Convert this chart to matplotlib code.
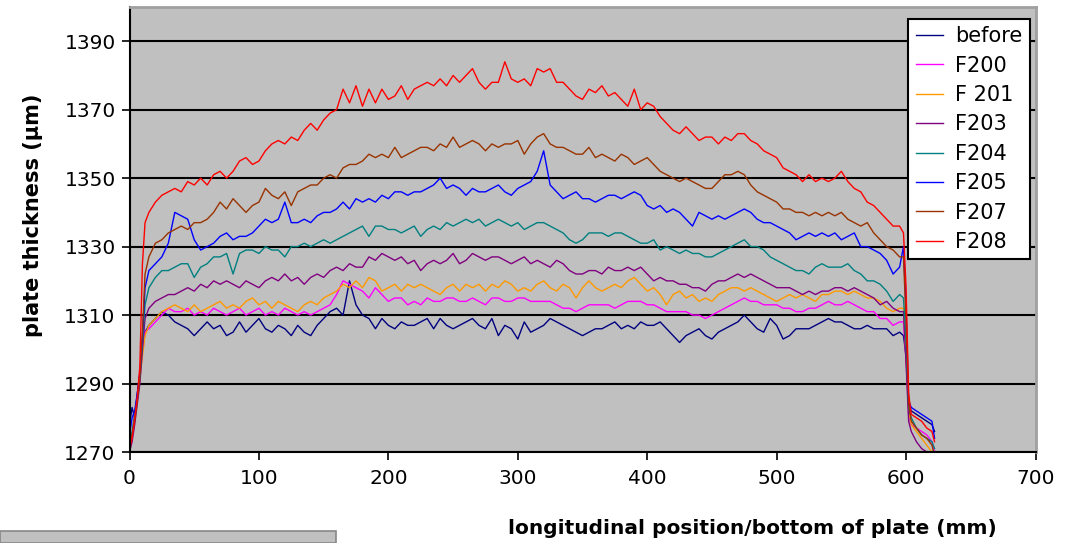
import matplotlib
matplotlib.use("Agg")
import matplotlib.pyplot as plt
from matplotlib.patches import Rectangle

# positions along the plate (mm): steep edge at the start, 5 mm body, drop-off at the end
head_mm = [0, 2, 4, 6, 8, 10, 12]
body_mm = list(range(15, 600, 5))
tail_mm = [598, 600, 602, 604, 608, 612, 616, 620, 622]
x_mm = head_mm + body_mm + tail_mm

labels = ["before", "F200", "F 201", "F203", "F204", "F205", "F207", "F208"]
colors = ["#000080", "#FF00FF", "#FF9900", "#800080", "#008080", "#0000FF", "#993300", "#FF0000"]

before = ([1278, 1283, 1280, 1287, 1293, 1300, 1305] +
          [1307, 1309, 1311, 1310, 1308, 1307, 1306, 1304, 1306, 1308,
           1306, 1307, 1304, 1305, 1308, 1305, 1307, 1309, 1306, 1305,
           1307, 1306, 1304, 1307, 1305, 1304, 1307, 1309, 1311, 1312,
           1310, 1320, 1313, 1310, 1309, 1306, 1309, 1307, 1306, 1308,
           1307, 1307, 1308, 1309, 1306, 1309, 1307, 1306, 1307, 1308,
           1309, 1307, 1306, 1309, 1304, 1307, 1306, 1303, 1308, 1305,
           1306, 1307, 1309, 1308, 1307, 1306, 1305, 1304, 1305, 1306,
           1306, 1307, 1308, 1306, 1307, 1306, 1308, 1307, 1307, 1308,
           1306, 1304, 1302, 1304, 1305, 1306, 1304, 1303, 1305, 1306,
           1307, 1308, 1310, 1308, 1306, 1305, 1309, 1307, 1303, 1304,
           1306, 1306, 1306, 1307, 1308, 1309, 1308, 1308, 1307, 1306,
           1306, 1307, 1306, 1306, 1306, 1304, 1305] +
          [1304, 1298, 1284, 1282, 1281, 1280, 1279, 1278, 1276])

f200 = ([1271, 1275, 1281, 1286, 1292, 1299, 1305] +
        [1306, 1308, 1310, 1312, 1311, 1311, 1312, 1310, 1311, 1310,
         1312, 1311, 1310, 1311, 1312, 1310, 1311, 1312, 1310, 1311,
         1310, 1312, 1311, 1310, 1311, 1310, 1311, 1312, 1313, 1316,
         1320, 1319, 1318, 1317, 1315, 1318, 1316, 1314, 1315, 1315,
         1313, 1314, 1313, 1315, 1314, 1314, 1315, 1315, 1314, 1314,
         1315, 1314, 1313, 1315, 1315, 1314, 1314, 1315, 1315, 1314,
         1314, 1314, 1314, 1313, 1312, 1312, 1311, 1312, 1313, 1313,
         1313, 1313, 1312, 1313, 1314, 1314, 1314, 1313, 1313, 1312,
         1311, 1311, 1311, 1311, 1310, 1310, 1309, 1310, 1311, 1312,
         1313, 1314, 1315, 1314, 1314, 1313, 1313, 1313, 1312, 1312,
         1311, 1311, 1312, 1312, 1313, 1314, 1313, 1313, 1314, 1313,
         1312, 1311, 1311, 1309, 1309, 1307, 1308] +
        [1308, 1297, 1281, 1278, 1277, 1276, 1275, 1273, 1270])

f201 = ([1270, 1274, 1280, 1285, 1291, 1298, 1304] +
        [1307, 1309, 1311, 1312, 1313, 1312, 1311, 1313, 1311, 1312,
         1313, 1314, 1312, 1313, 1312, 1314, 1315, 1313, 1314, 1312,
         1314, 1313, 1312, 1311, 1313, 1314, 1313, 1315, 1316, 1317,
         1319, 1318, 1320, 1318, 1321, 1320, 1317, 1318, 1319, 1317,
         1319, 1318, 1319, 1318, 1317, 1316, 1318, 1319, 1317, 1319,
         1318, 1319, 1317, 1319, 1318, 1320, 1319, 1317, 1318, 1317,
         1319, 1320, 1318, 1317, 1319, 1318, 1315, 1318, 1320, 1318,
         1317, 1318, 1319, 1318, 1320, 1321, 1319, 1317, 1318, 1316,
         1313, 1316, 1317, 1315, 1316, 1314, 1315, 1314, 1316, 1317,
         1318, 1318, 1317, 1318, 1317, 1316, 1315, 1314, 1315, 1316,
         1315, 1316, 1315, 1314, 1316, 1316, 1317, 1317, 1316, 1317,
         1316, 1315, 1315, 1314, 1312, 1311, 1312] +
        [1312, 1298, 1282, 1278, 1276, 1274, 1272, 1270, 1266])

f203 = ([1270, 1273, 1278, 1284, 1290, 1300, 1309] +
        [1312, 1314, 1315, 1316, 1316, 1317, 1318, 1317, 1319, 1318,
         1320, 1319, 1320, 1319, 1318, 1320, 1319, 1318, 1320, 1321,
         1320, 1322, 1320, 1321, 1319, 1321, 1322, 1321, 1323, 1324,
         1323, 1325, 1324, 1324, 1327, 1326, 1328, 1327, 1326, 1327,
         1325, 1326, 1323, 1325, 1326, 1325, 1326, 1328, 1325, 1326,
         1328, 1327, 1326, 1327, 1327, 1326, 1325, 1326, 1327, 1325,
         1326, 1325, 1324, 1326, 1325, 1323, 1322, 1322, 1323, 1323,
         1322, 1324, 1323, 1323, 1324, 1323, 1324, 1322, 1320, 1321,
         1320, 1320, 1319, 1319, 1318, 1318, 1317, 1319, 1320, 1320,
         1321, 1322, 1321, 1322, 1321, 1320, 1319, 1318, 1318, 1318,
         1317, 1316, 1317, 1316, 1317, 1317, 1318, 1318, 1317, 1318,
         1317, 1316, 1315, 1313, 1314, 1312, 1311] +
        [1311, 1296, 1279, 1276, 1273, 1271, 1270, 1268, 1266])

f204 = ([1273, 1276, 1281, 1286, 1292, 1302, 1313] +
        [1318, 1321, 1323, 1323, 1324, 1325, 1325, 1321, 1324, 1325,
         1327, 1327, 1328, 1322, 1328, 1329, 1329, 1328, 1330, 1329,
         1329, 1327, 1330, 1330, 1331, 1330, 1331, 1332, 1331, 1332,
         1333, 1334, 1335, 1336, 1333, 1336, 1336, 1335, 1335, 1334,
         1335, 1336, 1333, 1335, 1336, 1335, 1337, 1336, 1337, 1338,
         1337, 1338, 1336, 1337, 1338, 1337, 1336, 1337, 1335, 1336,
         1337, 1337, 1336, 1335, 1334, 1332, 1331, 1332, 1334, 1334,
         1334, 1333, 1334, 1334, 1333, 1332, 1331, 1331, 1332, 1329,
         1330, 1329, 1328, 1329, 1328, 1328, 1327, 1327, 1328, 1329,
         1330, 1331, 1332, 1330, 1330, 1329, 1327, 1326, 1325, 1324,
         1323, 1323, 1322, 1324, 1325, 1324, 1324, 1324, 1325, 1323,
         1322, 1320, 1320, 1319, 1317, 1314, 1316] +
        [1315, 1302, 1283, 1280, 1277, 1275, 1274, 1273, 1271])

f205 = ([1275, 1280, 1282, 1287, 1293, 1304, 1318] +
        [1323, 1325, 1327, 1331, 1340, 1339, 1338, 1332, 1329, 1330,
         1331, 1333, 1334, 1332, 1333, 1333, 1334, 1336, 1338, 1337,
         1338, 1343, 1337, 1337, 1338, 1337, 1339, 1340, 1340, 1341,
         1343, 1341, 1344, 1343, 1344, 1343, 1345, 1344, 1346, 1346,
         1345, 1346, 1346, 1347, 1348, 1350, 1347, 1348, 1347, 1345,
         1347, 1346, 1346, 1347, 1348, 1346, 1345, 1347, 1348, 1349,
         1352, 1358, 1348, 1346, 1344, 1345, 1346, 1344, 1344, 1343,
         1344, 1345, 1345, 1344, 1345, 1346, 1345, 1342, 1341, 1342,
         1340, 1341, 1340, 1338, 1336, 1340, 1339, 1338, 1339, 1338,
         1339, 1340, 1341, 1340, 1338, 1337, 1337, 1336, 1335, 1334,
         1332, 1333, 1334, 1333, 1334, 1333, 1334, 1332, 1333, 1334,
         1330, 1330, 1329, 1328, 1326, 1322, 1324] +
        [1330, 1312, 1285, 1283, 1282, 1281, 1280, 1279, 1274])

f207 = ([1272, 1275, 1279, 1285, 1292, 1305, 1322] +
        [1327, 1331, 1332, 1334, 1335, 1336, 1335, 1337, 1337, 1338,
         1340, 1343, 1341, 1344, 1342, 1340, 1342, 1343, 1347, 1345,
         1344, 1346, 1342, 1346, 1347, 1348, 1348, 1350, 1351, 1350,
         1353, 1354, 1354, 1355, 1357, 1356, 1357, 1356, 1359, 1356,
         1357, 1358, 1359, 1359, 1358, 1360, 1359, 1362, 1359, 1360,
         1361, 1360, 1358, 1360, 1359, 1360, 1360, 1361, 1357, 1360,
         1362, 1363, 1360, 1359, 1359, 1358, 1357, 1357, 1359, 1356,
         1357, 1356, 1355, 1357, 1356, 1354, 1355, 1356, 1354, 1352,
         1351, 1350, 1349, 1350, 1349, 1348, 1347, 1347, 1349, 1351,
         1351, 1352, 1351, 1348, 1346, 1345, 1344, 1343, 1341, 1341,
         1340, 1340, 1339, 1340, 1339, 1340, 1339, 1340, 1338, 1337,
         1336, 1337, 1334, 1332, 1330, 1329, 1327] +
        [1327, 1308, 1284, 1279, 1277, 1275, 1274, 1272, 1269])

f208 = ([1271, 1274, 1280, 1286, 1295, 1325, 1337] +
        [1340, 1343, 1345, 1346, 1347, 1346, 1349, 1348, 1350, 1348,
         1351, 1352, 1350, 1352, 1355, 1356, 1354, 1355, 1358, 1360,
         1361, 1360, 1362, 1361, 1364, 1366, 1364, 1367, 1369, 1370,
         1376, 1372, 1377, 1371, 1376, 1372, 1376, 1373, 1374, 1377,
         1373, 1376, 1377, 1378, 1377, 1379, 1377, 1380, 1378, 1380,
         1382, 1378, 1376, 1378, 1378, 1384, 1379, 1378, 1379, 1377,
         1382, 1381, 1382, 1378, 1378, 1376, 1374, 1373, 1376, 1375,
         1377, 1374, 1375, 1373, 1371, 1376, 1370, 1372, 1371, 1368,
         1366, 1364, 1363, 1365, 1363, 1361, 1362, 1362, 1360, 1362,
         1361, 1363, 1363, 1361, 1360, 1358, 1357, 1356, 1353, 1352,
         1351, 1349, 1351, 1349, 1350, 1349, 1350, 1352, 1349, 1347,
         1346, 1343, 1342, 1340, 1338, 1336, 1336] +
        [1334, 1318, 1287, 1281, 1280, 1279, 1277, 1276, 1273])

series = [before, f200, f201, f203, f204, f205, f207, f208]

fig = plt.figure(figsize=(10.73, 5.43), dpi=100)
ax = fig.add_axes([129.5 / 1073, 91 / 543, 906 / 1073, 445 / 543])
ax.set_facecolor("#C0C0C0")

for y, lab, c in zip(series, labels, colors):
    ax.plot(x_mm, y, color=c, lw=1.0, label=lab)

ax.set_xlim(0, 700)
ax.set_ylim(1270, 1400)
ax.set_xticks(range(0, 701, 100))
ax.set_yticks(range(1270, 1391, 20))
ax.yaxis.grid(True, color="black", lw=1.5)
ax.set_axisbelow(True)

for s in ["left", "bottom"]:
    ax.spines[s].set_color("black")
    ax.spines[s].set_linewidth(1.5)
for s in ["top", "right"]:
    ax.spines[s].set_color("#A0A0A0")
    ax.spines[s].set_linewidth(2)

ax.tick_params(axis="both", direction="out", length=6, width=1.2,
               labelsize=14.5, pad=4, colors="black")
ax.tick_params(axis="x", pad=6)

ax.set_ylabel("plate thickness (µm)", fontsize=15, fontweight="bold")
ax.set_xlabel("longitudinal position/bottom of plate (mm)", fontsize=14.5, fontweight="bold")
ax.yaxis.set_label_coords(-0.095, 0.533)
ax.xaxis.set_label_coords(0.688, -0.150)

leg = ax.legend(loc="upper right", bbox_to_anchor=(0.9937, 0.973), borderaxespad=0,
                fontsize=15, handlelength=1.3, handletextpad=0.6, labelspacing=0.45,
                borderpad=0.35, fancybox=False, framealpha=1, edgecolor="black")
leg.get_frame().set_linewidth(1.5)

# leftover grey strip at the bottom-left of the sheet
fig.add_artist(Rectangle((0, 0), 336 / 1073, 12 / 543, transform=fig.transFigure,
                         facecolor="#C0C0C0", edgecolor="#888888", lw=1.2))

fig.savefig("out.png", dpi=100)
